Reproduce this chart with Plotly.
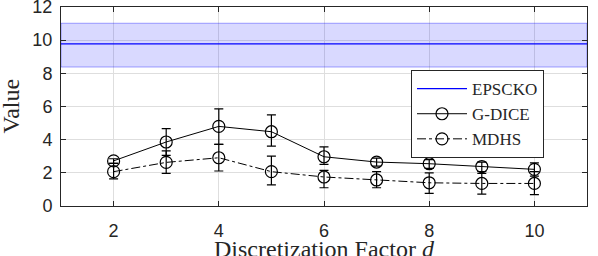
import plotly.graph_objects as go

d = [2, 3, 4, 5, 6, 7, 8, 9, 10]
gdice = [2.72, 3.86, 4.80, 4.48, 2.97, 2.65, 2.55, 2.38, 2.21]
gdice_hi = [2.85, 4.66, 5.86, 5.50, 3.57, 2.89, 2.80, 2.65, 2.60]
gdice_lo = [2.57, 3.05, 3.72, 3.61, 2.51, 2.41, 2.27, 2.07, 1.80]
mdhs = [2.07, 2.63, 2.91, 2.07, 1.75, 1.57, 1.40, 1.36, 1.36]
mdhs_hi = [2.57, 3.33, 3.72, 3.01, 2.15, 2.07, 2.00, 1.96, 2.07]
mdhs_lo = [1.63, 1.97, 2.11, 1.27, 1.10, 1.10, 0.76, 0.72, 0.69]
eps_x = [1, 11]
eps_mean = 9.78
eps_lo = 8.38
eps_hi = 11.02
x_title = "Discretization Factor <i>d</i>"
y_title = "Value"

fig = go.Figure()
fig.add_trace(go.Scatter(
    x=[eps_x[0], eps_x[1], eps_x[1], eps_x[0], eps_x[0]],
    y=[eps_lo, eps_lo, eps_hi, eps_hi, eps_lo],
    fill="toself", fillcolor="rgba(0,0,255,0.15)",
    line=dict(color="rgba(0,0,255,0.35)", width=1),
    mode="lines", showlegend=False, hoverinfo="skip"))
fig.add_trace(go.Scatter(
    x=eps_x, y=[eps_mean, eps_mean], mode="lines", name="EPSCKO",
    line=dict(color="#0000ff", width=1.2)))


def err(v, hi, lo):
    return [h - x for h, x in zip(hi, v)], [x - l for x, l in zip(v, lo)]


gp, gm = err(gdice, gdice_hi, gdice_lo)
mp, mm = err(mdhs, mdhs_hi, mdhs_lo)
fig.add_trace(go.Scatter(
    x=d, y=gdice, mode="lines+markers", name="G-DICE",
    line=dict(color="black", width=1),
    marker=dict(symbol="circle-open", size=12, color="black", line=dict(width=1.2)),
    error_y=dict(type="data", symmetric=False, array=gp, arrayminus=gm,
                 color="black", thickness=1.2, width=4.5)))
fig.add_trace(go.Scatter(
    x=d, y=mdhs, mode="lines+markers", name="MDHS",
    line=dict(color="black", width=1, dash="dashdot"),
    marker=dict(symbol="circle-open", size=12, color="black", line=dict(width=1.2)),
    error_y=dict(type="data", symmetric=False, array=mp, arrayminus=mm,
                 color="black", thickness=1.2, width=4.5)))

axis_common = dict(
    showline=True, linecolor="#262626", linewidth=1, mirror="ticks",
    ticks="inside", ticklen=5, tickcolor="#262626", automargin=False,
    ticklabeloverflow="allow",
    showgrid=True, gridcolor="#dedede", gridwidth=1, zeroline=False,
    tickfont=dict(family="Liberation Sans, Arial, sans-serif", size=18, color="#262626"),
)
title_font = dict(family="Liberation Serif, serif", size=24, color="#262626")
fig.update_layout(
    width=598, height=256,
    margin=dict(l=61, r=11, t=7, b=50),
    paper_bgcolor="white", plot_bgcolor="white",
    xaxis=dict(range=[1, 11], tickvals=[2, 4, 6, 8, 10], ticklabelstandoff=8,
               **axis_common),
    yaxis=dict(range=[0, 12], tickvals=[0, 2, 4, 6, 8, 10, 12], ticklabelstandoff=4,
               **axis_common),
    legend=dict(x=0.6654, y=0.683, xanchor="left", yanchor="top",
                bgcolor="white", bordercolor="#262626", borderwidth=1,
                font=dict(family="Liberation Serif, serif", size=17, color="#262626"),
                tracegroupgap=0, itemwidth=50),
    showlegend=True,
    annotations=[
        dict(text=x_title, xref="paper", yref="paper", x=0.5, y=0,
             xanchor="center", yanchor="top", yshift=-28, showarrow=False,
             font=title_font),
        dict(text=y_title, xref="paper", yref="paper", x=0, y=0.5,
             xanchor="center", yanchor="middle", xshift=-51, textangle=-90,
             showarrow=False, font=title_font),
    ],
)
fig.write_html("out.html", config={"displayModeBar": False},
               post_script="document.body.style.margin='0';")
